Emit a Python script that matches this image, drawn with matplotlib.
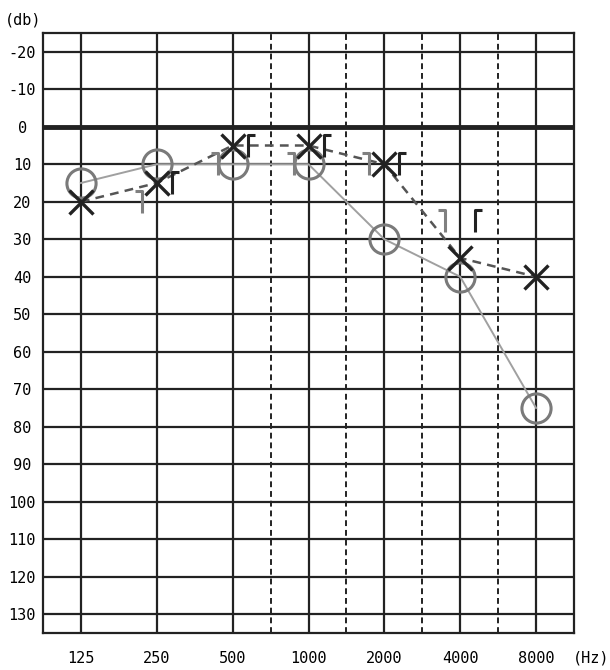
import numpy as np
import matplotlib
matplotlib.use('Agg')
import matplotlib.pyplot as plt
from matplotlib.path import Path

# Audiogram data
freq_labels = ['125', '250', '500', '1000', '2000', '4000', '8000']
right_air = [15, 10, 10, 10, 30, 40, 75]      # gray circles
left_air = [20, 15, 5, 5, 10, 35, 40]         # black crosses
bone_freqs = ['250', '500', '1000', '2000', '4000']
right_bone = [20, 10, 10, 10, 25]             # gray brackets
left_bone = [15, 5, 5, 10, 25]                # black brackets
db_ticks = list(range(-20, 140, 10))

plt.rcParams['font.family'] = ['DejaVu Sans Mono', 'DejaVu Sans']

fig = plt.figure(figsize=(6.1, 6.7), dpi=100)
ax = fig.add_axes([43 / 610, 1 - 633 / 670, 531 / 610, 600 / 670])

x = np.arange(len(freq_labels))
xb = [freq_labels.index(f) for f in bone_freqs]

# grid
for xi in x:
    ax.axvline(xi, color='#222222', lw=1.6, zorder=1)
for xi in x[2:-1] + 0.5:
    ax.axvline(xi, color='#222222', lw=1.4, ls=(0, (3, 2)), zorder=1)
for d in db_ticks:
    ax.axhline(d, color='#222222', lw=1.6 if d != 0 else 3.5, zorder=1)

# right ear (gray)
ax.plot(x, right_air, color='#a0a0a0', lw=1.4, zorder=3)
ax.plot(x, right_air, ls='none', marker='o', ms=21, mfc='none',
        mec='#7a7a7a', mew=2.2, zorder=4)

# left ear (black)
ax.plot(x, left_air, color='#555555', lw=1.8, ls=(0, (3.5, 2.5)), zorder=3)
ax.plot(x, left_air, ls='none', marker='x', ms=17, mec='#222222',
        mew=2.4, zorder=5)

# bone conduction brackets (offset beside the point)
left_br = Path([(15, -11), (15, 11), (22, 11)],
               [Path.MOVETO, Path.LINETO, Path.LINETO])
right_br = Path([(-15, -11), (-15, 11), (-22, 11)],
                [Path.MOVETO, Path.LINETO, Path.LINETO])
ax.plot(xb, right_bone, ls='none', marker=right_br, ms=31.7, mfc='none',
        mec='#808080', mew=2.2, zorder=4)
ax.plot(xb, left_bone, ls='none', marker=left_br, ms=31.7, mfc='none',
        mec='#222222', mew=2.2, zorder=5)

ax.set_xlim(-0.5, len(freq_labels) - 0.5)
ax.set_ylim(135, -25)
ax.set_xticks(x)
ax.set_xticklabels(freq_labels, fontsize=11)
ax.set_yticks(db_ticks)
ax.set_yticklabels([str(d) for d in db_ticks], fontsize=11, ha='center')
ax.tick_params(axis='y', length=0, pad=15)
ax.tick_params(axis='x', length=0, pad=13)
for s in ax.spines.values():
    s.set_linewidth(1.6)
    s.set_color('#222222')

fig.text(5 / 610, 1 - 20 / 670, '(db)', fontsize=11, va='center', ha='left')
fig.text(591 / 610, 1 - 658 / 670, '(Hz)', fontsize=11, va='center', ha='center')

fig.savefig('out.png', dpi=100)
